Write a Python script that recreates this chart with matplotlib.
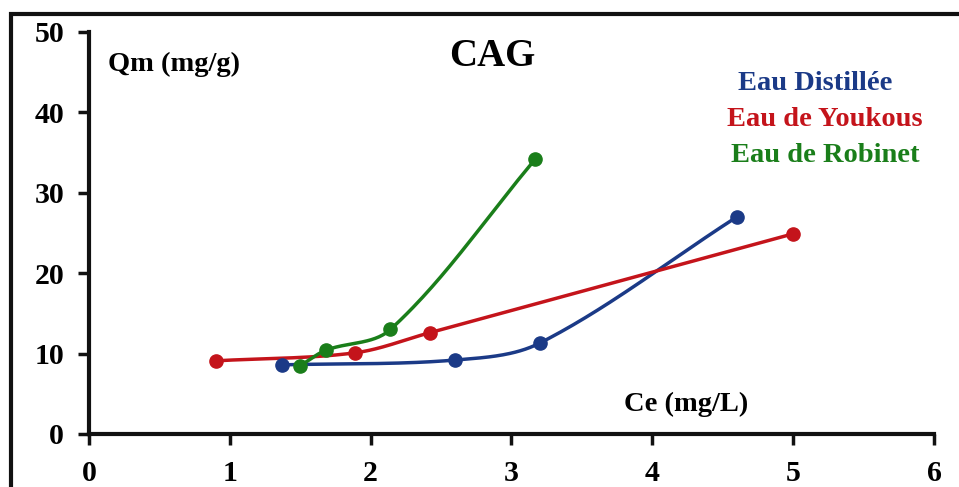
import numpy as np
import matplotlib
matplotlib.use("Agg")
import matplotlib.pyplot as plt
from matplotlib.patches import Rectangle

# Data
series_names = ["Eau Distillée", "Eau de Youkous", "Eau de Robinet"]
distillee_x = [1.37, 2.60, 3.20, 4.60]
distillee_y = [8.6, 9.2, 11.3, 27.0]
youkous_x = [0.90, 1.89, 2.42, 5.00]
youkous_y = [9.1, 10.1, 12.6, 24.9]
robinet_x = [1.50, 1.68, 2.14, 3.17]
robinet_y = [8.5, 10.4, 13.0, 34.2]
colors = ["#1B3A87", "#C4141B", "#1A7E1A"]
xticks = [0, 1, 2, 3, 4, 5, 6]
yticks = [0, 10, 20, 30, 40, 50]

plt.rcParams['font.family'] = ['Liberation Serif', 'DejaVu Serif']
plt.rcParams['font.weight'] = 'bold'

SX, SY = 140.8, 8.04  # approximate pixel scale used for smoothing geometry


def smooth(xs, ys, n=50, k=1.0):
    P = np.column_stack([np.asarray(xs) * SX, np.asarray(ys) * SY]).astype(float)
    m = len(P)
    T = np.zeros_like(P)
    for i in range(m):
        if i == 0:
            d = P[1] - P[0]
        elif i == m - 1:
            d = P[-1] - P[-2]
        else:
            d = P[i + 1] - P[i - 1]
        T[i] = d / np.linalg.norm(d)
    out = []
    for i in range(m - 1):
        p1, p2 = P[i], P[i + 1]
        L = np.linalg.norm(p2 - p1)
        c1 = p1 + T[i] * L / 3 * k
        c2 = p2 - T[i + 1] * L / 3 * k
        t = np.linspace(0, 1, n)[:, None]
        seg = ((1 - t) ** 3) * p1 + 3 * ((1 - t) ** 2) * t * c1 + 3 * (1 - t) * t ** 2 * c2 + t ** 3 * p2
        out.append(seg if i == 0 else seg[1:])
    out = np.vstack(out)
    return out[:, 0] / SX, out[:, 1] / SY


fig = plt.figure(figsize=(9.59, 4.87), dpi=100)
ax = fig.add_axes([89 / 959, 1 - 434 / 487, (934 - 89) / 959, (434 - 32) / 487])

data = [(distillee_x, distillee_y), (youkous_x, youkous_y), (robinet_x, robinet_y)]
for (xs, ys), c in zip(data, colors):
    sx, sy = smooth(xs, ys)
    ax.plot(sx, sy, color=c, lw=2.5, solid_capstyle='round', zorder=2)
    ax.plot(xs, ys, 'o', color=c, ms=9.5, zorder=3)

ax.set_xlim(0, 6)
ax.set_ylim(0, 50)
ax.set_xticks(xticks)
ax.set_yticks(yticks)
ax.spines['top'].set_visible(False)
ax.spines['right'].set_visible(False)
for s in ['left', 'bottom']:
    ax.spines[s].set_linewidth(3)
    ax.spines[s].set_color('#111111')
ax.tick_params(axis='both', direction='out', length=8, width=2.5, labelsize=21.5, color='#111111')
ax.tick_params(axis='y', pad=10)
ax.tick_params(axis='x', pad=11)
for lab in ax.get_xticklabels() + ax.get_yticklabels():
    lab.set_fontweight('bold')

fig.text(108 / 959, 1 - 64 / 487, "Qm (mg/g)", fontsize=20.5, fontweight='bold', ha='left', va='center')
fig.text(492 / 959, 1 - 57 / 487, "CAG", fontsize=28, fontweight='bold', ha='center', va='center')
fig.text(686 / 959, 1 - 404 / 487, "Ce (mg/L)", fontsize=20.5, fontweight='bold', ha='center', va='center')

leg_pos = [(815, 83), (825, 119), (825, 155)]
for name, c, (px, py) in zip(series_names, colors, leg_pos):
    fig.text(px / 959, 1 - py / 487, name, fontsize=20.5, fontweight='bold', color=c, ha='center', va='center')

# outer frame (top and left visible)
fig.patches.append(Rectangle((11 / 959, -0.1), 1.2, 1 - 14 / 487 + 0.1, transform=fig.transFigure,
                             fill=False, edgecolor='#111111', lw=3, zorder=0))

fig.savefig("out.png", dpi=100)
